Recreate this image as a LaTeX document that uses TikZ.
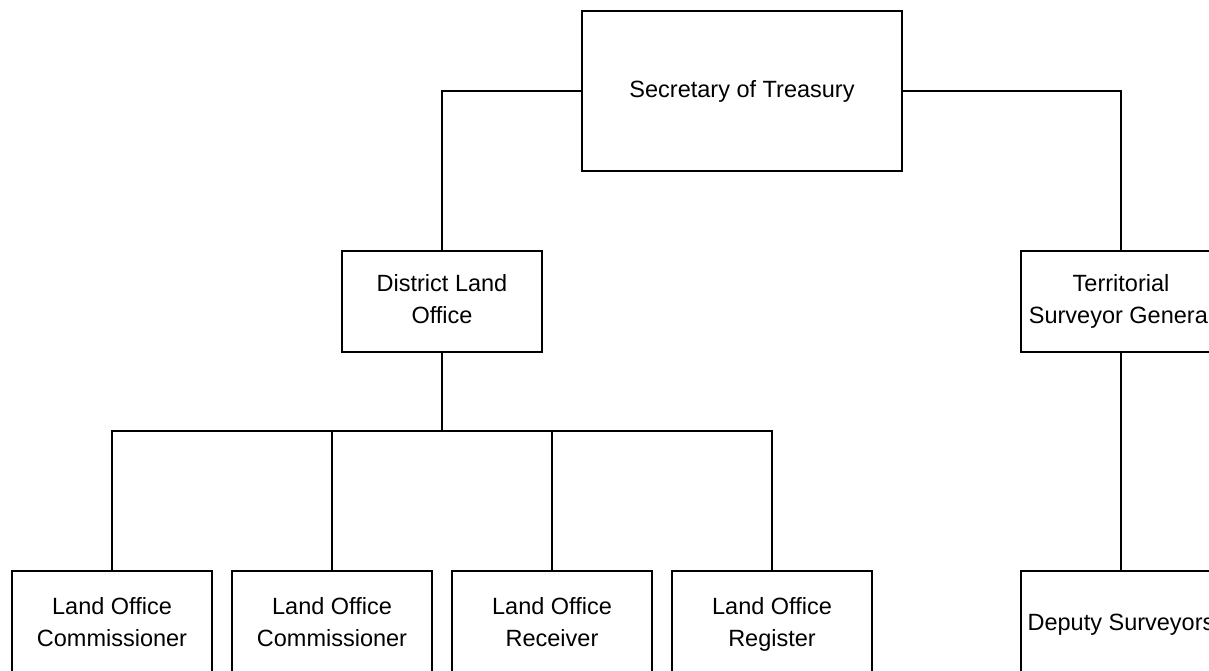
\documentclass[tikz,border=0pt]{standalone}
\usepackage{fontspec}
\setmainfont{Liberation Sans}
\newcommand{\boxtext}[1]{\raisebox{-3pt}{\begin{tabular}{@{}c@{}}#1\end{tabular}}}
\begin{document}
\begin{tikzpicture}[x=1pt,y=-1pt,
  box/.style={draw=black, line width=1.6pt, fill=white, inner sep=0pt,
    font=\fontsize{23.5}{32}\selectfont},
  link/.style={draw=black, line width=1.6pt}]
\useasboundingbox (0,0) rectangle (1209,671);
\clip (0,0) rectangle (1209,671);
\node[box, minimum width=320pt, minimum height=160pt] (sec) at (742,91) {\boxtext{Secretary of Treasury}};
\node[box, minimum width=200pt, minimum height=101pt] (dlo) at (442,301.5) {\boxtext{District Land\\Office}};
\node[box, minimum width=200pt, minimum height=101pt] (tsg) at (1121,301.5) {\boxtext{Territorial\\Surveyor General}};
\node[box, minimum width=200pt, minimum height=106pt] (c1) at (112,624) {\boxtext{Land Office\\Commissioner}};
\node[box, minimum width=200pt, minimum height=106pt] (c2) at (332,624) {\boxtext{Land Office\\Commissioner}};
\node[box, minimum width=200pt, minimum height=106pt] (c3) at (552,624) {\boxtext{Land Office\\Receiver}};
\node[box, minimum width=200pt, minimum height=106pt] (c4) at (772,624) {\boxtext{Land Office\\Register}};
\node[box, minimum width=200pt, minimum height=106pt] (dep) at (1121,624) {\boxtext{Deputy Surveyors}};
\coordinate (bus) at (0,431);
\draw[link] (sec.west) -| (dlo.north);
\draw[link] (sec.east) -| (tsg.north);
\draw[link] (dlo.south) -- (dlo.south |- bus) -| (c1.north);
\draw[link] (dlo.south |- bus) -| (c2.north);
\draw[link] (dlo.south |- bus) -| (c3.north);
\draw[link] (dlo.south |- bus) -| (c4.north);
\draw[link] (tsg.south) -- (dep.north);
\end{tikzpicture}
\end{document}
